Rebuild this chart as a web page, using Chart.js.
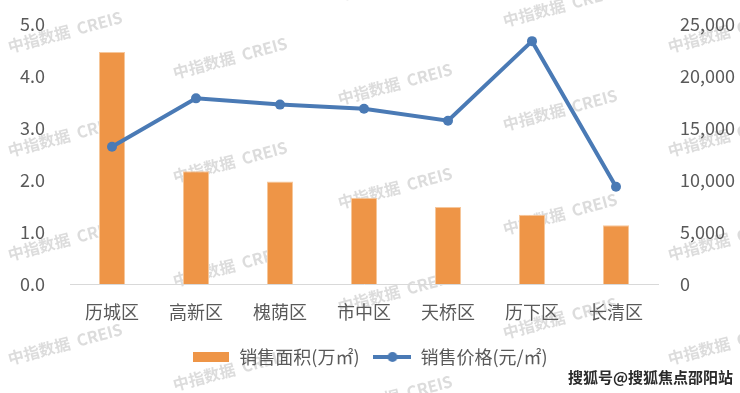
<!DOCTYPE html>
<html>
<head>
<meta charset="utf-8">
<script src="https://cdn.jsdelivr.net/npm/chart.js@4"></script>
<style>
html,body{margin:0;padding:0;background:#fff;}
#wrap{width:740px;height:393px;position:relative;}
</style>
</head>
<body>
<div id="wrap"><canvas id="c" width="740" height="393"></canvas></div>
<script>
const categories = ['历城区','高新区','槐荫区','市中区','天桥区','历下区','长清区'];
const salesArea = [4.46, 2.17, 1.97, 1.66, 1.48, 1.33, 1.13];
const salesPrice = [13200, 17850, 17250, 16850, 15700, 23350, 9350];
const seriesNames = ['销售面积(万㎡)', '销售价格(元/㎡)'];
const watermarkText = '中指数据  CREIS';
const sourceText = '搜狐号@搜狐焦点邵阳站';

const FONT = '"Noto Sans CJK SC", "Noto Sans", sans-serif';
const BAR = '#EE9547';
const LINE = '#4A7AB5';
const TXT = '#595959';

function makeBarIcon(){
  const c = document.createElement('canvas'); c.width = 36; c.height = 10;
  const x = c.getContext('2d'); x.fillStyle = BAR; x.fillRect(0,0,36,10); return c;
}
function makeLineIcon(){
  const c = document.createElement('canvas'); c.width = 38; c.height = 12;
  const x = c.getContext('2d');
  x.strokeStyle = LINE; x.lineWidth = 4; x.beginPath(); x.moveTo(0,6); x.lineTo(38,6); x.stroke();
  x.fillStyle = LINE; x.beginPath(); x.arc(19,6,5,0,Math.PI*2); x.fill(); return c;
}
const icons = [makeBarIcon(), makeLineIcon()];

const watermarkPlugin = {
  id: 'wm',
  beforeDraw(chart){
    const ctx = chart.ctx; ctx.save();
    ctx.fillStyle = '#ffffff'; ctx.fillRect(0, 0, chart.width, chart.height);
    ctx.font = 'bold 16px ' + FONT; ctx.fillStyle = 'rgba(205,205,205,0.7)';
    ctx.textAlign = 'center'; ctx.textBaseline = 'middle';
    for (let i = 0; i < 5; i++) {
      const cx = 65 + 165 * i;
      const base = (32 + 26 * i) % 104;
      for (let k = -1; k < 5; k++) {
        const cy = base + 104 * k;
        if (cy < -20 || cy > 410) continue;
        ctx.save(); ctx.translate(cx, cy); ctx.rotate(-15 * Math.PI / 180);
        ctx.fillText(watermarkText, 0, 0); ctx.restore();
      }
    }
    ctx.restore();
  },
  afterDraw(chart){
    const ctx = chart.ctx; ctx.save();
    ctx.font = 'bold 15px ' + FONT; ctx.textAlign = 'right'; ctx.textBaseline = 'middle';
    ctx.lineWidth = 3; ctx.strokeStyle = '#ffffff'; ctx.strokeText(sourceText, 733, 377);
    ctx.fillStyle = '#2a2a2a'; ctx.fillText(sourceText, 733, 377);
    ctx.restore();
  }
};

function fixV(s, w){ s.width = w; s.paddingTop = 0; s.paddingBottom = 0; }

new Chart(document.getElementById('c'), {
  data: {
    labels: categories,
    datasets: [
      { type: 'bar', label: seriesNames[0], data: salesArea, yAxisID: 'y',
        backgroundColor: BAR, borderColor: '#F6C79C', borderWidth: 1,
        barPercentage: 0.31, categoryPercentage: 1, order: 1 },
      { type: 'line', label: seriesNames[1], data: salesPrice, yAxisID: 'y2',
        borderColor: LINE, backgroundColor: LINE, borderWidth: 4,
        pointRadius: 5, pointBackgroundColor: LINE, pointBorderWidth: 0,
        tension: 0, order: 0 }
    ]
  },
  options: {
    responsive: false, animation: false,
    layout: { padding: { top: 24, left: 0, right: 0, bottom: 17 } },
    plugins: {
      tooltip: { enabled: false },
      legend: {
        position: 'bottom',
        labels: {
          usePointStyle: true, pointStyleWidth: 38, boxHeight: 12,
          color: TXT, font: { family: FONT, size: 18 }, padding: 14,
          sort: (a, b) => a.datasetIndex - b.datasetIndex,
          generateLabels(chart){
            const items = Chart.defaults.plugins.legend.labels.generateLabels(chart);
            items.forEach(it => { it.pointStyle = icons[it.datasetIndex]; });
            return items;
          }
        }
      }
    },
    scales: {
      x: {
        grid: { display: false, drawTicks: false },
        border: { display: true, color: '#D9D9D9', width: 1 },
        ticks: { color: TXT, font: { family: FONT, size: 18 }, padding: 17, maxRotation: 0 },
        afterFit(s){ s.height = 50; }
      },
      y: {
        position: 'left', min: 0, max: 5,
        grid: { display: false, drawTicks: false },
        border: { display: false },
        ticks: { stepSize: 1, color: TXT, font: { family: FONT, size: 18 }, padding: 25,
          callback: v => Number(v).toFixed(1) },
        afterFit(s){ fixV(s, 70); }
      },
      y2: {
        position: 'right', min: 0, max: 25000,
        grid: { display: false, drawTicks: false },
        border: { display: false },
        ticks: { stepSize: 5000, color: TXT, font: { family: FONT, size: 18 }, padding: 22,
          callback: v => Number(v).toLocaleString('en-US') },
        afterFit(s){ fixV(s, 82); }
      }
    }
  },
  plugins: [watermarkPlugin]
});
</script>
</body>
</html>
